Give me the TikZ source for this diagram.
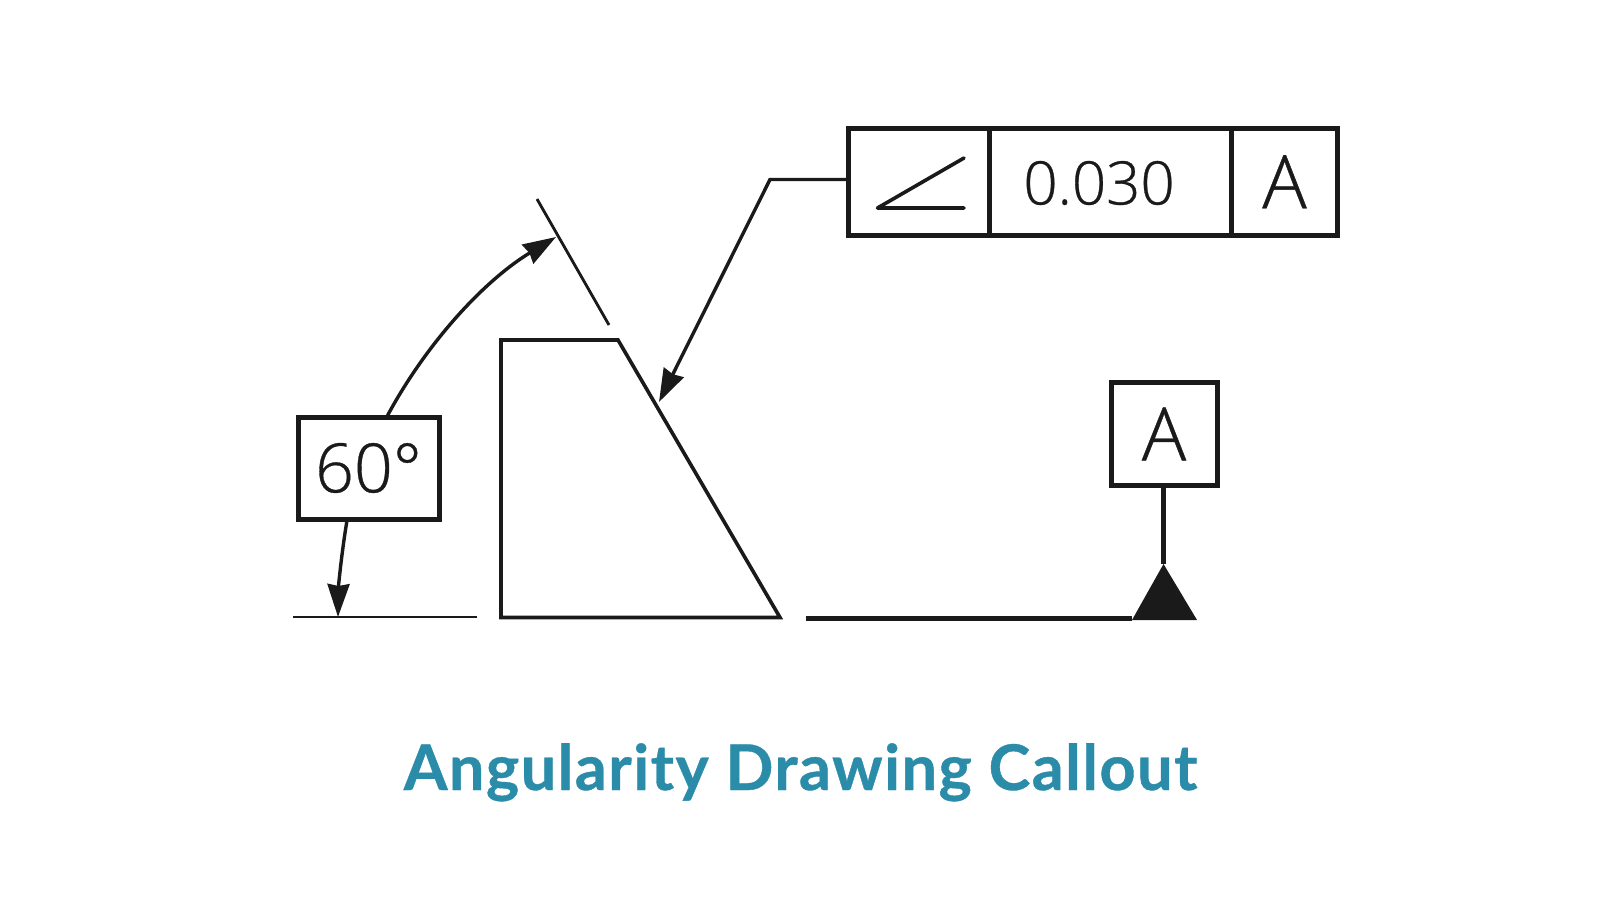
\documentclass[tikz,border=0pt]{standalone}
\usepackage{fontspec}
\setmainfont[FakeBold=0.5]{Open Sans Light}
\newfontfamily\capfont[LetterSpace=2.3,BoldFeatures={FakeBold=0.6}]{Lato}
\usetikzlibrary{arrows.meta}
\definecolor{ink}{HTML}{1A1A1A}
\definecolor{teal}{HTML}{2A8CA8}
\tikzset{
  x=1pt,y=-1pt,
  framebox/.style={draw=ink,line width=5pt,inner sep=0pt,outer sep=0pt,align=center,text=ink},
  thinline/.style={draw=ink,line width=2.8pt},
  partline/.style={draw=ink,line width=3.6pt},
  leader/.style={draw=ink,line width=3.4pt,-{Stealth[length=33pt,width=22pt,inset=2pt]}},
  thick base/.style={draw=ink,line width=5pt},
}
\begin{document}
\begin{tikzpicture}
\useasboundingbox[fill=white] (0,0) rectangle (1600,900);
% part
\coordinate (tl) at (501,340);
\coordinate (tr) at (618,340);
\coordinate (br) at (780,617.5);
\coordinate (bl) at (501,617.5);
\draw[partline,line join=miter] (tl) -- (tr) -- (br) -- (bl) -- cycle;
% extension lines
\coordinate (e1) at (537,199);
\coordinate (e2) at (609,325);
\coordinate (b1) at (293,617);
\coordinate (b2) at (477,617);
\draw[thinline] (e1) -- (e2);
\draw[thinline] (b1) -- (b2);
% basic dimension
\node[framebox,minimum width=141pt,minimum height=102pt,font=\fontsize{68}{68}\selectfont] (dim) at (368.5,468) {60°};
\coordinate (arcstart) at (387,416.5);
\coordinate (arcend) at (556,237);
\coordinate (lowstart) at (347,520.5);
\coordinate (lowend) at (338,617);
\draw[leader] (arcstart) .. controls (427,342) and (485,280) .. (arcend);
\draw[leader] (lowstart) .. controls (342,550) and (338.5,585) .. (lowend);
% feature control frame
\node[framebox,minimum width=141.5pt,minimum height=106.5pt,anchor=north west] (fa) at (848,128.5) {};
\node[framebox,minimum width=242pt,minimum height=106.5pt,anchor=north west] (fb) at (fa.north east) {};
\node[framebox,minimum width=106pt,minimum height=106.5pt,anchor=north west,font=\fontsize{74}{74}\selectfont] (fc) at (fb.north east) {A};
\node[text=ink,inner sep=0pt,font=\fontsize{60}{60}\selectfont] (tol) at (1099,183) {0.030};
\coordinate (s1) at (964,158);
\coordinate (s2) at (877.5,208);
\coordinate (s3) at (964,208);
\draw[partline,line join=round,line cap=round] (s1) -- (s2) -- (s3);
\coordinate (elbow) at (770,179.5);
\coordinate (tip) at (659,402);
\draw[leader] (fa.west |- elbow) -- (elbow) -- (tip);
% datum
\node[framebox,minimum width=106pt,minimum height=103pt,font=\fontsize{74}{74}\selectfont] (dat) at (1164,434) {A};
\coordinate (apex) at (1163.5,564);
\coordinate (t1) at (1132,620);
\coordinate (t2) at (1197,620);
\coordinate (d1) at (806,618);
\fill[ink] (apex) -- (t2) -- (t1) -- cycle;
\draw[draw=ink,line width=4.6pt] (dat.south -| apex) -- (apex);
\draw[thick base] (d1) -- (d1 -| t1);
% caption
\node[font=\capfont\bfseries\fontsize{63}{63}\selectfont,text=teal,anchor=base] (cap) at (800.5,790) {Angularity Drawing Callout};
\end{tikzpicture}
\end{document}
